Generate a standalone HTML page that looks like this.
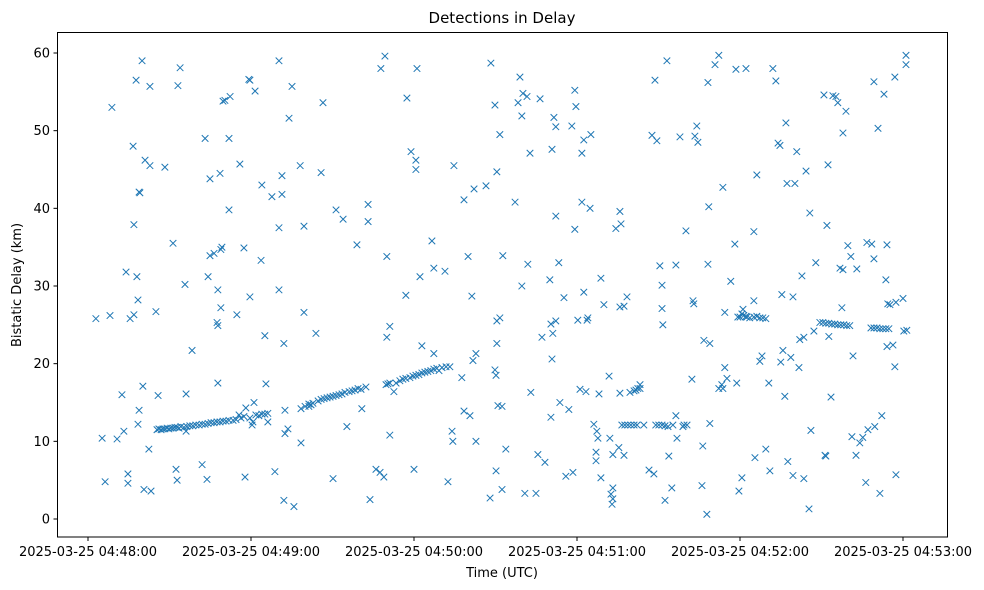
<!DOCTYPE html>
<html>
<head>
<meta charset="utf-8">
<style>
html,body{margin:0;padding:0;background:#fff;}
svg{display:block;font-family:"DejaVu Sans","Liberation Sans",sans-serif;}
</style>
</head>
<body>
<svg id="chart" width="984" height="590" viewBox="0 0 984 590">
  <rect x="0" y="0" width="984" height="590" fill="#fff"/>
  <text x="502" y="23" text-anchor="middle" font-size="15" fill="#000">Detections in Delay</text>
  <g id="marks"></g>
  <rect x="57.5" y="32.5" width="890" height="504.5" fill="none" stroke="#000" stroke-width="1"/>
  <g id="xticks"></g>
  <g id="yticks"></g>
  <text x="502" y="577" text-anchor="middle" font-size="13">Time (UTC)</text>
  <text x="0" y="0" transform="translate(21,285) rotate(-90)" text-anchor="middle" font-size="13">Bistatic Delay (km)</text>
</svg>
<script>
// seconds after 2025-03-25 04:48:00
const times = [2.9,5.2,6.3,8.1,8.8,10.7,12.5,13.2,14.0,14.7,14.7,15.5,16.6,16.9,16.9,17.7,18.0,18.4,18.4,18.8,18.8,19.1,19.9,20.2,20.6,21.0,22.4,22.8,22.8,23.2,25.0,25.8,28.3,31.3,32.4,32.8,33.1,33.9,35.7,36.1,36.1,38.3,42.0,43.1,43.8,44.2,44.9,44.9,46.4,47.5,47.8,47.8,47.8,48.6,48.9,48.9,49.3,49.7,50.4,51.9,51.9,52.3,54.8,55.6,55.9,57.4,57.8,58.1,59.2,59.6,59.6,60.4,60.7,61.1,61.5,63.7,64.0,65.1,65.5,66.2,67.7,68.8,70.3,70.3,70.3,71.4,71.4,72.1,72.1,72.5,72.5,73.6,74.0,75.1,75.8,78.1,78.4,79.5,79.5,81.3,82.1,83.9,85.8,86.5,90.2,91.3,93.9,95.3,99.0,100.8,103.1,103.1,103.8,106.0,107.5,107.8,108.9,109.3,110.0,110.0,110.4,111.1,111.1,112.6,117.0,117.4,118.9,120.0,120.7,120.7,121.1,122.2,122.9,126.6,127.3,127.3,129.2,131.4,132.5,134.0,134.3,134.7,137.6,138.4,138.4,139.9,140.6,141.3,141.7,142.1,142.8,142.8,146.5,148.0,148.3,149.8,149.8,150.2,150.2,150.5,150.5,150.5,150.9,151.6,151.6,152.4,152.4,152.7,153.8,157.2,158.3,159.0,159.7,159.7,160.1,160.8,161.6,161.9,162.7,163.0,164.9,165.6,166.4,167.1,168.2,170.0,170.4,170.4,170.8,170.8,171.1,171.5,172.2,172.2,172.2,173.3,173.7,175.2,175.9,177.0,178.1,178.5,179.2,179.2,179.6,180.3,181.1,181.8,181.8,182.5,182.5,183.3,183.7,184.0,184.8,185.1,186.2,187.0,187.0,187.3,187.7,188.1,188.8,188.8,189.9,191.8,192.1,192.5,192.9,193.2,193.2,193.2,194.3,195.4,195.8,195.8,195.8,196.2,197.3,197.3,198.4,199.5,201.0,201.7,202.4,203.2,203.2,206.5,207.6,208.3,208.7,209.4,210.5,211.3,211.3,211.6,212.4,213.1,213.8,214.9,215.3,216.4,216.4,216.8,217.9,219.0,220.1,222.3,222.7,223.0,223.4,224.1,224.5,226.0,226.3,226.7,227.8,228.2,228.2,228.5,228.9,228.9,230.8,232.2,232.2,233.3,233.7,233.7,234.4,234.4,235.2,236.6,238.1,238.5,238.8,239.6,240.0,240.7,241.1,241.4,242.2,242.5,245.1,245.1,245.5,246.2,247.3,248.1,249.5,250.6,251.0,252.1,253.2,254.0,254.7,255.0,255.4,255.8,256.5,256.9,257.3,257.6,258.7,259.5,259.5,260.2,260.9,261.7,262.0,262.8,263.5,263.5,264.3,265.4,265.7,266.1,267.2,267.9,270.9,271.3,271.6,272.0,272.4,272.7,273.5,274.2,275.3,276.0,276.8,277.5,277.9,277.9,279.0,279.7,280.8,281.2,281.6,282.7,283.0,284.1,285.2,286.3,286.7,287.1,288.5,289.3,289.3,289.6,290.8,291.5,292.2,293.0,293.7,294.1,294.1,294.4,295.2,296.3,297.0,297.0,297.4,297.4,300.0,300.3,301.1,301.1,301.4];
const delays = [25.8,10.4,4.8,26.2,53,10.3,16,11.3,31.8,5.8,4.6,25.8,48,37.9,26.3,56.5,31.2,12.2,28.2,14,42.1,42,59,17.1,3.8,46.2,9,55.7,45.5,3.6,26.7,15.9,45.3,35.5,6.4,5.0,55.8,58.1,30.2,16.1,11.3,21.7,7.0,49,5.1,31.2,43.8,33.9,34.2,25.3,24.9,29.5,17.5,44.5,27.2,34.7,35,53.8,53.9,39.8,49,54.4,26.3,13.4,45.7,34.9,5.4,14.3,56.6,56.5,28.6,12.1,12.5,15,55.1,33.3,43,23.6,17.4,12.5,41.5,6.1,59,37.5,29.5,41.8,44.2,22.6,2.4,14,11,11.6,51.6,55.7,1.6,45.5,9.8,26.6,37.7,14.5,14.7,23.9,44.6,53.6,5.2,39.8,38.6,11.9,35.3,14.2,40.5,38.3,2.5,6.4,6.0,58,5.4,59.6,33.8,23.4,17.4,10.8,24.8,16.4,28.8,54.2,47.3,6.4,45,46.2,58,31.2,22.3,35.8,32.3,21.3,19.1,31.9,4.8,11.3,10,45.5,18.2,13.9,41.1,33.8,13.3,28.7,20.4,42.5,21.3,10,42.9,2.7,58.7,53.3,19.2,18.5,6.2,44.7,22.6,25.5,14.6,25.9,49.5,3.8,14.5,33.9,9,40.8,53.6,56.9,30,51.9,54.8,3.3,54.4,32.8,47.1,16.3,3.3,8.3,54.1,23.4,7.3,30.8,25.1,13.1,47.6,20.6,23.9,51.7,39,50.5,25.5,33,15,28.5,5.5,14.1,50.6,6,37.3,55.2,53.1,25.6,16.7,47.1,40.8,29.2,48.8,16.4,25.6,25.9,40,49.5,12.2,8.6,7.5,11.3,10.4,16.1,5.3,31,27.6,18.4,10.4,3.2,1.9,2.6,4,8.3,37.4,9.2,39.6,27.3,16.2,38,8.2,27.4,28.6,16.3,16.5,16.6,16.8,17.3,16.8,6.3,49.4,5.8,56.5,48.7,32.6,30.1,27.1,25,2.4,59,8.1,4,12.1,32.7,13.3,10.4,49.2,11.9,37.1,18,28.1,27.7,49.3,50.6,48.5,4.3,9.4,23,0.6,56.2,32.8,40.2,22.6,12.3,58.5,59.7,16.8,17.3,42.7,16.8,26.6,19.5,18.1,30.6,35.4,57.9,17.5,3.6,26,5.3,27,26.2,58,26,28.1,37,7.9,44.3,20.3,21,9,17.5,6.2,58,56.4,48.4,48.1,20.2,28.9,21.7,15.8,51,43.2,7.4,20.8,28.6,5.6,43.2,47.3,19.5,23.1,31.3,23.4,5.2,44.8,1.3,39.4,11.4,24.2,33,54.6,8.2,8.1,37.8,45.6,23.5,15.7,54.5,54.4,53.6,32.3,27.2,49.7,32.1,52.5,35.2,33.8,10.6,21,8.2,32.2,9.8,10.5,4.7,35.6,11.5,35.4,56.3,33.5,11.9,50.3,3.3,13.3,54.7,30.8,22.2,35.3,27.7,27.6,22.4,19.6,56.9,27.9,5.7,28.4,24.2,59.7,58.5,24.3];
// target tracks
const trackTimes = [25.4,26.1,26.9,27.6,28.3,29.1,29.8,30.5,31.3,32.0,32.8,33.5,34.2,35.3,36.4,37.5,38.6,39.7,40.9,42.0,43.1,44.2,45.3,46.4,47.5,48.6,49.7,50.8,51.9,53.4,54.5,56.3,57.4,59.6,61.8,62.9,64.0,65.1,66.2,78.4,79.9,81.3,82.8,84.7,85.8,86.9,88.0,89.1,90.2,91.3,92.4,93.5,94.6,96.1,97.2,98.3,99.4,100.5,102.3,109.7,111.1,113.4,114.8,115.9,117.0,118.5,119.6,120.7,121.8,122.9,124.0,125.1,126.2,127.3,128.4,130.3,131.8,133.2,
196.5,197.6,198.7,199.8,201.0,202.1,204.6,209.0,210.1,211.3,212.4,213.5,219.4,220.5,
239.2,240.7,242.2,243.6,245.1,246.2,247.3,248.4,249.5,
269.4,270.5,271.6,272.7,273.8,274.9,276.0,277.1,278.2,279.3,280.4,288.2,289.3,290.4,291.5,292.6,293.7,294.8];
const trackDelays = [11.5,11.6,11.5,11.6,11.6,11.7,11.6,11.7,11.7,11.8,11.8,11.7,11.9,11.8,11.9,12.0,12.0,12.1,12.1,12.2,12.2,12.3,12.4,12.4,12.5,12.5,12.6,12.6,12.7,12.7,12.8,13.0,13.2,13.0,13.4,13.3,13.5,13.5,13.6,14.2,14.5,14.8,14.9,15.2,15.4,15.5,15.6,15.7,15.8,15.9,16.0,16.1,16.3,16.4,16.5,16.6,16.8,16.7,17.0,17.3,17.5,17.5,17.8,18.0,18.1,18.2,18.4,18.5,18.6,18.8,18.9,19.0,19.1,19.3,19.4,19.5,19.6,19.6,
12.1,12.1,12.1,12.1,12.1,12.1,12.1,12.1,12.1,12.1,12.0,11.9,12.1,12.1,
26.0,26.4,26.1,25.9,26.0,26.1,25.9,25.9,25.8,
25.3,25.3,25.2,25.2,25.1,25.1,25.0,25.0,25.0,24.9,24.9,24.6,24.6,24.6,24.5,24.5,24.5,24.5];
const xTickSecs = [0,60,120,180,240,300];
const xTickLabels = ["2025-03-25 04:48:00","2025-03-25 04:49:00","2025-03-25 04:50:00","2025-03-25 04:51:00","2025-03-25 04:52:00","2025-03-25 04:53:00"];
const yTickVals = [0,10,20,30,40,50,60];

const NS = "http://www.w3.org/2000/svg";
function xScale(s){ return 88 + s * (163/60); }
function yScale(v){ return 519 - v * (466/60); }

const marks = document.getElementById('marks');
function drawX(t, d){
  const cx = xScale(t), cy = yScale(d), r = 3.3;
  const p = document.createElementNS(NS, 'path');
  p.setAttribute('d', `M${cx-r},${cy-r}L${cx+r},${cy+r}M${cx-r},${cy+r}L${cx+r},${cy-r}`);
  p.setAttribute('stroke', '#1f77b4');
  p.setAttribute('stroke-width', '1');
  p.setAttribute('fill', 'none');
  
  
  marks.appendChild(p);
}
for (let i = 0; i < times.length; i++) drawX(times[i], delays[i]);
for (let i = 0; i < trackTimes.length; i++) drawX(trackTimes[i], trackDelays[i]);

const xg = document.getElementById('xticks');
xTickSecs.forEach((s, i) => {
  const x = xScale(s);
  const l = document.createElementNS(NS, 'line');
  l.setAttribute('x1', x); l.setAttribute('x2', x);
  l.setAttribute('y1', 537); l.setAttribute('y2', 541);
  l.setAttribute('stroke', '#000');
  
  
  xg.appendChild(l);
  const t = document.createElementNS(NS, 'text');
  t.setAttribute('x', x); t.setAttribute('y', 556);
  t.setAttribute('text-anchor', 'middle');
  t.setAttribute('font-size', '13');
  t.textContent = xTickLabels[i];
  
  
  xg.appendChild(t);
});
const yg = document.getElementById('yticks');
yTickVals.forEach(v => {
  const y = yScale(v);
  const l = document.createElementNS(NS, 'line');
  l.setAttribute('x1', 53.5); l.setAttribute('x2', 57.5);
  l.setAttribute('y1', y); l.setAttribute('y2', y);
  l.setAttribute('stroke', '#000');
  
  
  yg.appendChild(l);
  const t = document.createElementNS(NS, 'text');
  t.setAttribute('x', 50); t.setAttribute('y', y + 4.5);
  t.setAttribute('text-anchor', 'end');
  t.setAttribute('font-size', '13');
  t.textContent = String(v);
  
  
  yg.appendChild(t);
});
</script>
</body>
</html>
